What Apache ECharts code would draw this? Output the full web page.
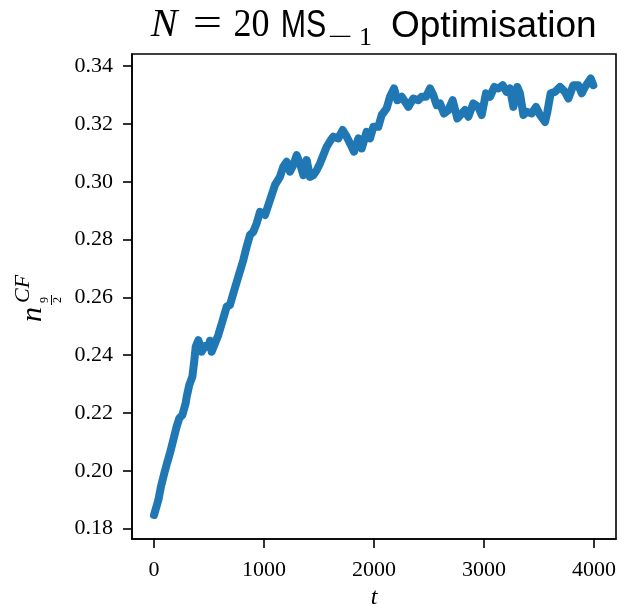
<!DOCTYPE html>
<html>
<head>
<meta charset="utf-8">
<script src="https://cdn.jsdelivr.net/npm/echarts@6/dist/echarts.min.js"></script>
<style>
html,body{margin:0;padding:0;background:#fff;}
#chart{width:628px;height:605px;}
</style>
</head>
<body>
<div id="chart"></div>
<script>
const tValues = [0,40,63,94,118,145,176,206,230,258,288,297,321,349,367,379,403,433,464,494,509,524,539,555,585,621,661,691,721,766,812,842,873,903,933,964,1009,1039,1070,1100,1145,1175,1206,1236,1267,1297,1327,1358,1388,1418,1448,1479,1509,1545,1570,1600,1630,1676,1715,1752,1797,1818,1858,1888,1933,1964,1994,2039,2070,2115,2145,2182,2212,2252,2282,2312,2357,2403,2433,2473,2509,2539,2570,2600,2636,2676,2715,2758,2797,2827,2858,2903,2948,2979,3018,3055,3094,3130,3170,3206,3236,3267,3303,3327,3358,3388,3433,3473,3509,3555,3576,3606,3645,3691,3736,3767,3812,3858,3888,3918,3970,3994];
const nValues = [0.1847,0.1899,0.1945,0.1992,0.2026,0.2061,0.2107,0.2153,0.2182,0.2193,0.2234,0.2256,0.2297,0.2326,0.2383,0.2429,0.2452,0.2412,0.2432,0.2429,0.2450,0.2412,0.2418,0.2441,0.2470,0.2516,0.2568,0.2574,0.2614,0.2671,0.2729,0.2775,0.2816,0.2827,0.2856,0.2896,0.2885,0.2919,0.2954,0.2989,0.3017,0.3052,0.3069,0.3035,0.3058,0.3092,0.3063,0.3023,0.3075,0.3017,0.3023,0.3040,0.3063,0.3098,0.3121,0.3140,0.3156,0.3150,0.3179,0.3156,0.3121,0.3104,0.3150,0.3115,0.3173,0.3150,0.3190,0.3190,0.3231,0.3254,0.3294,0.3323,0.3282,0.3294,0.3277,0.3259,0.3288,0.3282,0.3294,0.3294,0.3323,0.3300,0.3265,0.3271,0.3236,0.3248,0.3282,0.3219,0.3236,0.3248,0.3225,0.3271,0.3259,0.3231,0.3306,0.3294,0.3328,0.3323,0.3334,0.3311,0.3323,0.3259,0.3328,0.3306,0.3231,0.3242,0.3236,0.3259,0.3231,0.3207,0.3242,0.3306,0.3311,0.3328,0.3311,0.3288,0.3334,0.3334,0.3306,0.3328,0.3357,0.3334];
const xTicks = [0,1000,2000,3000,4000];
const yTicks = [0.18,0.20,0.22,0.24,0.26,0.28,0.30,0.32,0.34];

const serif = '"Liberation Serif", "DejaVu Serif", serif';
const sans = '"Liberation Sans", Arial, sans-serif';

function txt(text, x, baseline, size, family, opts) {
  opts = opts || {};
  return {
    type: 'text',
    silent: true,
    x: x,
    y: baseline - 0.32 * size,
    scaleX: opts.scaleX || 1,
    style: {
      text: text,
      x: 0,
      y: 0,
      fontSize: size,
      fontFamily: family,
      fontStyle: opts.italic ? 'italic' : 'normal',
      fill: '#000',
      align: opts.align || 'left',
      verticalAlign: 'middle'
    }
  };
}

const chart = echarts.init(document.getElementById('chart'), null, {renderer: 'canvas'});
const option = {
  animation: false,
  backgroundColor: '#fff',
  grid: {left: 132, top: 54, width: 484, height: 485, show: true, borderColor: '#000', borderWidth: 1.6, backgroundColor: 'transparent'},
  xAxis: {
    type: 'value', min: -200, max: 4200,
    axisLine: {show: true, onZero: false, lineStyle: {color: '#000', width: 1.6}},
    axisTick: {show: true, length: 9, lineStyle: {color: '#000', width: 1.6}, customValues: xTicks},
    axisLabel: {customValues: xTicks, margin: 20, fontSize: 22, fontFamily: serif, color: '#000',
      formatter: function (v) { return String(Math.round(v)); }},
    splitLine: {show: false}
  },
  yAxis: {
    type: 'value', min: 0.1764, max: 0.3442,
    axisLine: {show: true, onZero: false, lineStyle: {color: '#000', width: 1.6}},
    axisTick: {show: true, length: 9, lineStyle: {color: '#000', width: 1.6}, customValues: yTicks},
    axisLabel: {customValues: yTicks, margin: 19, fontSize: 22, fontFamily: serif, color: '#000',
      formatter: function (v) { return v.toFixed(2); }},
    splitLine: {show: false}
  },
  series: [{
    type: 'line',
    data: tValues.map(function (t, i) { return [t, nValues[i]]; }),
    showSymbol: false,
    lineStyle: {color: '#1f77b4', width: 8, join: 'round', cap: 'round'},
    itemStyle: {color: '#1f77b4'}
  }],
  graphic: [
    txt('N', 164, 38.3, 40, serif, {italic: true, align: 'center'}),
    txt('=', 207.5, 38.3, 40, serif, {align: 'center', scaleX: 1.3}),
    txt('20', 251.5, 38.3, 40, serif, {align: 'center', scaleX: 0.9}),
    txt('MS', 303.5, 38.3, 38, sans, {align: 'center', scaleX: 0.8}),
    txt('\u2212', 340.5, 46.7, 26, serif, {align: 'center', scaleX: 1.7}),
    txt('1', 365.5, 46.7, 26, serif, {align: 'center'}),
    txt('Optimisation', 391, 38.3, 37, sans),
    txt('t', 374, 605, 24, serif, {italic: true, align: 'center'}),
    {
      type: 'group', x: 43, y: 322, rotation: Math.PI / 2,
      children: [
        txt('n', 0, 0, 30, serif, {italic: true}),
        txt('CF', 19, -13, 22, serif, {italic: true}),
        txt('9', 22, 6, 12, serif, {align: 'center'}),
        {type: 'line', silent: true, shape: {x1: 17, y1: 8.5, x2: 27, y2: 8.5}, style: {stroke: '#000', lineWidth: 1}},
        txt('2', 22, 19, 12, serif, {align: 'center'})
      ]
    }
  ]
};
chart.setOption(option);
</script>
</body>
</html>
